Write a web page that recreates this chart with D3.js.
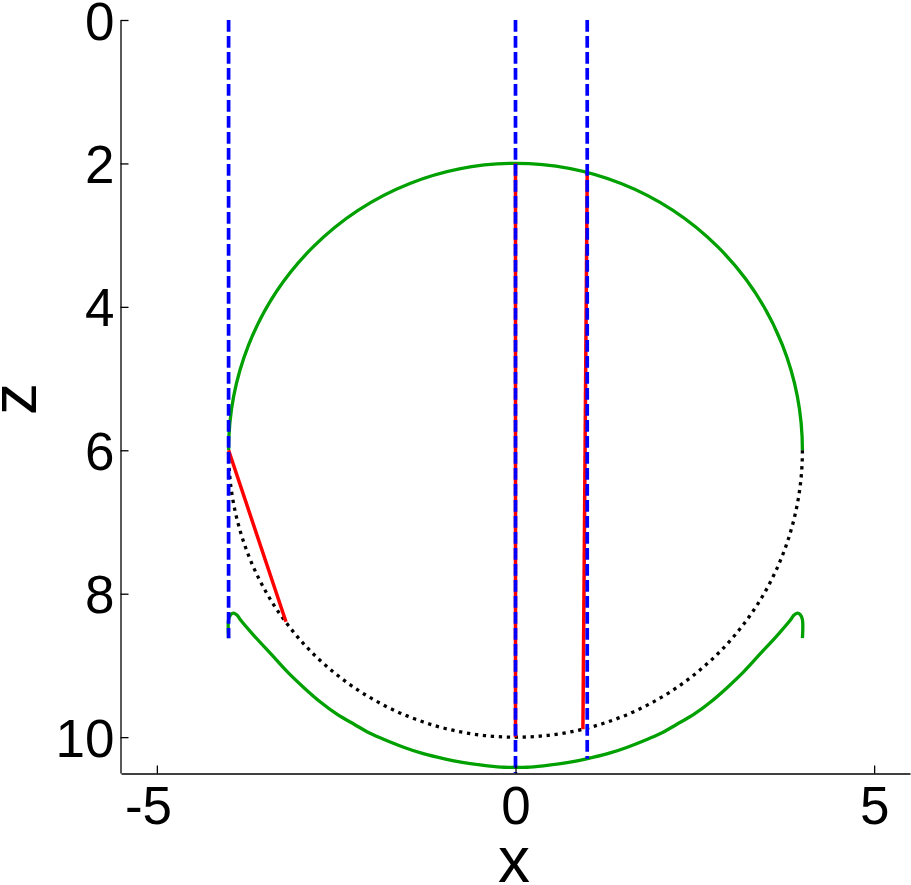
<!DOCTYPE html>
<html>
<head>
<meta charset="utf-8">
<script src="https://cdn.jsdelivr.net/npm/d3@7"></script>
<style>
  html, body { margin: 0; padding: 0; background: #fff; }
  svg { display: block; }
  text { font-family: "Liberation Sans", Arial, sans-serif; fill: #000; }
</style>
</head>
<body>
<svg id="chart" width="911" height="885"></svg>
<script>
// ---- data ----
const xTicks = [-5, 0, 5];
const zTicks = [0, 2, 4, 6, 8, 10];
const xDomain = [-5.5, 5.5];
const zDomain = [0, 10.5];

// circle (center x, center z, radius)
const circleCenter = [0, 6];
const circleRadius = 4;

// lower green curve
const lowerX = [-4.0, -4.0, -3.97, -3.93, -3.88, -3.83, -3.65, -3.41, -3.18, -2.95, -2.72, -2.49, -2.25, -2.02, -1.79, -1.56, -1.32, -1.09, -0.86, -0.63, -0.39, -0.16, 0,
                0.16, 0.39, 0.63, 0.86, 1.09, 1.32, 1.56, 1.79, 2.02, 2.25, 2.49, 2.72, 2.95, 3.18, 3.41, 3.65, 3.83, 3.88, 3.93, 3.97, 4.0, 4.0];
const lowerZ = [8.62, 8.36, 8.29, 8.27, 8.30, 8.37, 8.58, 8.84, 9.09, 9.31, 9.51, 9.68, 9.82, 9.95, 10.05, 10.14, 10.22, 10.28, 10.33, 10.37, 10.40, 10.42, 10.42,
                10.42, 10.40, 10.37, 10.33, 10.28, 10.22, 10.14, 10.05, 9.95, 9.82, 9.68, 9.51, 9.31, 9.09, 8.84, 8.58, 8.37, 8.30, 8.27, 8.29, 8.36, 8.62];

// blue dashed incident rays
const rayX = [-4, 0, 1];
const rayZStart = [0, 0, 0];
const rayZEnd = [8.62, 10.5, 10.3];

// red refracted segments
const redX0 = [-4, 0, 1];
const redZ0 = [6, 2, 2.13];
const redX1 = [-3.2, 0, 0.94];
const redZ1 = [8.39, 10, 9.89];

// ---- drawing ----
const svg = d3.select("#chart");
const x = d3.scaleLinear().domain(xDomain).range([121, 910]);
const z = d3.scaleLinear().domain(zDomain).range([20, 773]);

const green = "#00a000";

// circle arcs
const cx = x(circleCenter[0]), cy = z(circleCenter[1]);
const r = x(circleCenter[0] + circleRadius) - x(circleCenter[0]);

const upper = d3.path();
upper.arc(cx, cy, r, Math.PI, 2 * Math.PI, false);
svg.append("path").attr("d", upper.toString())
  .attr("fill", "none").attr("stroke", green).attr("stroke-width", 3.3);

// lower green curve
const lowerPts = lowerX.map((v, i) => [v, lowerZ[i]]);
svg.append("path")
  .attr("d", d3.line().x(d => x(d[0])).y(d => z(d[1])).curve(d3.curveCatmullRom.alpha(0.5))(lowerPts))
  .attr("fill", "none").attr("stroke", green).attr("stroke-width", 3.3)
  .attr("stroke-linejoin", "round");

// dotted lower half of circle
const lower = d3.path();
lower.arc(cx, cy, r, 0, Math.PI, false);
svg.append("path").attr("d", lower.toString())
  .attr("fill", "none").attr("stroke", "#000").attr("stroke-width", 3.3)
  .attr("stroke-dasharray", "3.3,4.7");

// red segments
redX0.forEach((v, i) => {
  svg.append("line")
    .attr("x1", x(v)).attr("y1", z(redZ0[i]))
    .attr("x2", x(redX1[i])).attr("y2", z(redZ1[i]))
    .attr("stroke", "#ff0000").attr("stroke-width", 3.5);
});

// blue dashed rays
rayX.forEach((v, i) => {
  svg.append("line")
    .attr("x1", x(v)).attr("y1", z(rayZStart[i]))
    .attr("x2", x(v)).attr("y2", z(rayZEnd[i]))
    .attr("stroke", "#0000ff").attr("stroke-width", 3.7)
    .attr("stroke-dasharray", "11.7,4.3");
});

// axes
const fs = 53;
const fmt = d => String(d);
const gx = svg.append("g").attr("transform", "translate(0,773.5)")
  .call(d3.axisBottom(x).tickValues(xTicks).tickSizeInner(-8).tickSizeOuter(0).tickPadding(13).tickFormat(fmt));
const gy = svg.append("g").attr("transform", "translate(120.5,0)")
  .call(d3.axisLeft(z).tickValues(zTicks).tickSizeInner(-8).tickSizeOuter(0).tickPadding(6).tickFormat(fmt));

[gx, gy].forEach(g => {
  g.select(".domain").attr("stroke", "#000").attr("stroke-width", 1.3);
  g.selectAll(".tick line").attr("stroke", "#000").attr("stroke-width", 1.3);
  g.selectAll("text").attr("font-size", fs).attr("font-family", '"Liberation Sans", Arial, sans-serif').attr("fill", "#000");
});
// x tick labels: digits centered on tick, minus hanging to the left
gx.selectAll(".tick text").attr("text-anchor", "end").attr("x", fs * 0.278);
gy.selectAll(".tick text").attr("dy", "0.36em");

// axis labels
svg.append("text").attr("x", 514).attr("y", 882).attr("text-anchor", "middle")
  .attr("font-size", 64).text("x");
svg.append("text").attr("transform", "translate(36,399) rotate(-90)").attr("text-anchor", "middle")
  .attr("font-size", 64).text("z");
</script>
</body>
</html>
